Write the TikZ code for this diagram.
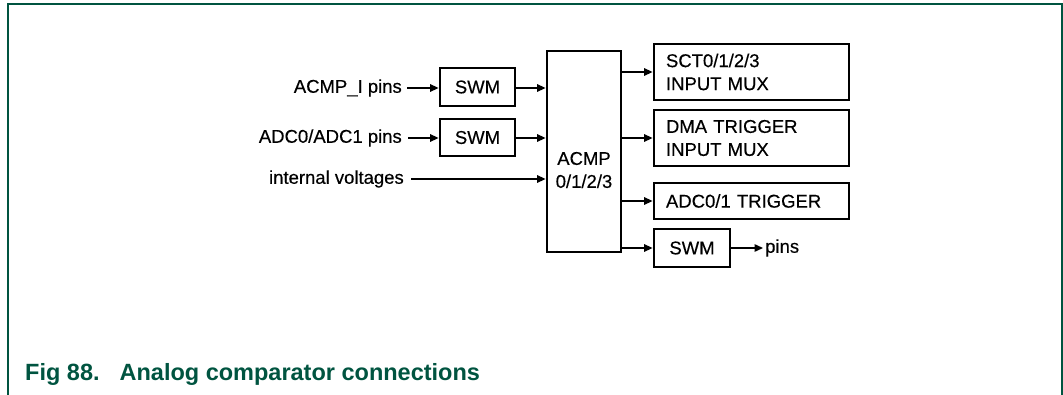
\documentclass[tikz,border=0pt]{standalone}
\usepackage{fontspec}
\setmainfont{Liberation Sans}
\newfontfamily\diagfont[FakeBold=0.35]{Liberation Sans}
\usepackage{tikz}
\usetikzlibrary{arrows.meta, positioning, calc}
\usepackage{xcolor}
\definecolor{nxpgreen}{RGB}{0,84,64}

\begin{document}
\begin{tikzpicture}[x=1pt, y=-1pt,
  every node/.style={font=\diagfont\fontsize{18.5}{23}\selectfont},
  blk/.style={draw, line width=2.8pt, rectangle, inner sep=0pt},
  conn/.style={-{Triangle[length=8.5pt, width=7.5pt]}, line width=1.4pt},
  txt/.style={inner sep=0pt}]
\useasboundingbox (0,0) rectangle (1063,395);
\draw[nxpgreen, line width=2pt] (8,395) -- (8,4.5) -- (1062,4.5) -- (1062,395);
% input side
\node[blk, minimum width=75pt, minimum height=38pt] (swmA) at (477.5,87) {SWM};
\node[blk, minimum width=75pt, minimum height=37pt] (swmB) at (477.5,137.5) {SWM};
\node[blk, minimum width=74pt, minimum height=201pt] (acmp) at (584,151.5) {};
\node[txt, align=center] (acmptxt) at (584,170) {ACMP\\0/1/2/3};
\node[txt, anchor=east] (inA) at (402,88) {ACMP\_I pins};
\node[txt, anchor=east] (inB) at (402,138) {ADC0/ADC1 pins};
\node[txt, anchor=east] (inC) at (404,179) {internal voltages};
\draw[conn] ([xshift=5pt]inA.east) -- (inA.east -| swmA.west);
\draw[conn] ([xshift=6pt]inB.east) -- (inB.east -| swmB.west);
\draw[conn] (swmA.east |- inA.east) -- (inA.east -| acmp.west);
\draw[conn] (swmB.east |- inB.east) -- (inB.east -| acmp.west);
\draw[conn] ([xshift=7pt]inC.east) -- (inC.east -| acmp.west);
% output side
\node[blk, minimum width=195pt, minimum height=56pt, text width=171pt, align=left] (sct) at (751.5,72) {SCT0/1/2/3\\INPUT MUX};
\node[blk, minimum width=195pt, minimum height=56pt, text width=171pt, align=left] (dma) at (751.5,138) {DMA TRIGGER\\INPUT MUX};
\node[blk, minimum width=195pt, minimum height=36pt, text width=171pt, align=left] (adc) at (751.5,201) {ADC0/1 TRIGGER};
\node[blk, minimum width=76pt, minimum height=38pt] (swmC) at (692,248) {SWM};
\node[txt, anchor=west] (pins) at (765,248) {pins};
\draw[conn] (acmp.east |- sct.west) -- (sct.west);
\draw[conn] (acmp.east |- dma.west) -- (dma.west);
\draw[conn] (acmp.east |- adc.west) -- (adc.west);
\draw[conn] (acmp.east |- swmC.west) -- (swmC.west);
\draw[conn] (swmC.east) -- ([xshift=-2pt]pins.west);
% caption
\node[txt, anchor=base west, text=nxpgreen, font=\rmfamily\fontsize{23.5}{28}\bfseries\selectfont] (cap) at (25,380) {Fig 88.\hspace{20pt}Analog comparator connections};
\end{tikzpicture}
\end{document}
